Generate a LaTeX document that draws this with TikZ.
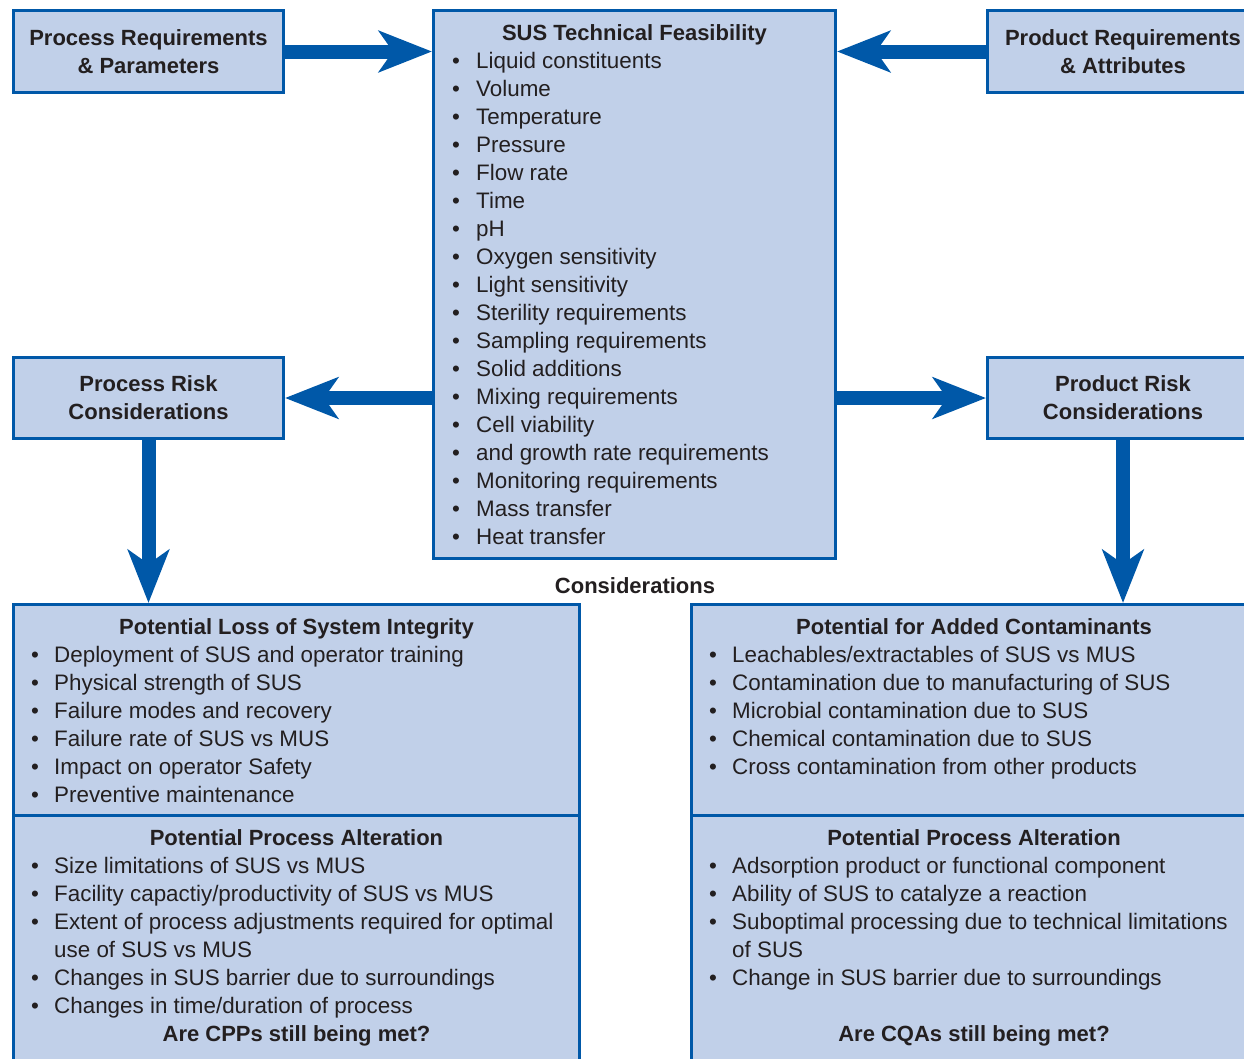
\documentclass[tikz,border=0pt]{standalone}
\usepackage{fontspec}
\setmainfont{Liberation Sans}
\usetikzlibrary{positioning,arrows.meta}
\definecolor{susfill}{RGB}{193,208,233}
\definecolor{susblue}{RGB}{0,88,168}
\definecolor{sustext}{RGB}{35,31,32}
\newcommand{\susfont}{\fontsize{22pt}{28pt}\selectfont}
\newcommand{\itmfont}{\fontsize{22.4pt}{28pt}\selectfont}

\begin{document}
\begin{tikzpicture}[x=1pt,y=-1pt,
box/.style={
  draw=susblue,
  fill=susfill,
  line width=3pt,
  inner sep=0pt,
  text=sustext,
  font={\susfont\bfseries},
  align=center},
itm/.style={anchor=base west, inner sep=0pt, text=sustext, font=\itmfont},
hd/.style={anchor=base, inner sep=0pt, text=sustext, font={\susfont\bfseries}},
bigarrow/.style={draw=susblue, line width=14pt,
  -{Stealth[length=53pt,width=41pt,inset=14pt]}},
]
\useasboundingbox (0,0) rectangle (1244,1058);
\clip (0,0) rectangle (1244,1058);

% boxes
\node[box, minimum width=270pt, minimum height=82pt] (procreq) at (148.5,51.5) {Process Requirements\\\& Parameters};
\node[box, minimum width=402pt, minimum height=548pt] (sus) at (634.5,284.5) {};
\node[box, minimum width=271pt, minimum height=82pt] (prodreq) at (1123,51.5) {Product Requirements\\\& Attributes};
\node[box, minimum width=270pt, minimum height=81pt] (procrisk) at (148.5,398) {Process Risk\\Considerations};
\node[box, minimum width=271pt, minimum height=81pt] (prodrisk) at (1123,398) {Product Risk\\Considerations};
\node[box, minimum width=566pt, minimum height=210.5pt] (loss) at (296.5,709.75) {};
\node[box, minimum width=566pt, minimum height=265pt] (altl) at (296.5,947.5) {};
\node[box, minimum width=568.5pt, minimum height=210.5pt] (contam) at (975.75,709.75) {};
\node[box, minimum width=568.5pt, minimum height=265pt] (altr) at (975.75,947.5) {};

% feasibility list
\node[hd] (sustitle) at (634.5,40) {SUS Technical Feasibility};
\foreach \t [count=\i] in {Liquid constituents, Volume, Temperature, Pressure,
  Flow rate, Time, pH, Oxygen sensitivity, Light sensitivity,
  Sterility requirements, Sampling requirements, Solid additions,
  Mixing requirements, Cell viability, and growth rate requirements,
  Monitoring requirements, Mass transfer, Heat transfer}
  \node[itm] (sus\i) at (452,40+28*\i) {\makebox[24pt][l]{\textbullet}\t};

\node[hd] (consid) at (635,593) {Considerations};

% process side
\node[hd] (losstitle) at (296.5,634) {Potential Loss of System Integrity};
\foreach \t [count=\i] in {Deployment of SUS and operator training,
  Physical strength of SUS, Failure modes and recovery,
  Failure rate of SUS vs MUS, Impact on operator Safety,
  Preventive maintenance}
  \node[itm] (loss\i) at (31,634+28*\i) {\makebox[23pt][l]{\textbullet}\t};

\node[hd] (altltitle) at (296.5,845) {Potential Process Alteration};
\foreach \b/\t [count=\i] in {1/{Size limitations of SUS vs MUS},
  1/{Facility capactiy/productivity of SUS vs MUS},
  1/{Extent of process adjustments required for optimal},
  0/{use of SUS vs MUS},
  1/{Changes in SUS barrier due to surroundings},
  1/{Changes in time/duration of process}}
  \node[itm] (altl\i) at (31,845+28*\i) {\makebox[23pt][l]{\ifnum\b=1 \textbullet\fi}\t};
\node[hd] (cpp) at (296.5,1041) {Are CPPs still being met?};

% product side
\node[hd] (contamtitle) at (974,634) {Potential for Added Contaminants};
\foreach \t [count=\i] in {{Leachables/extractables of SUS vs MUS},
  Contamination due to manufacturing of SUS,
  Microbial contamination due to SUS,
  Chemical contamination due to SUS,
  Cross contamination from other products}
  \node[itm] (contam\i) at (709,634+28*\i) {\makebox[23pt][l]{\textbullet}\t};

\node[hd] (altrtitle) at (974,845) {Potential Process Alteration};
\foreach \b/\t [count=\i] in {1/{Adsorption product or functional component},
  1/{Ability of SUS to catalyze a reaction},
  1/{Suboptimal processing due to technical limitations},
  0/{of SUS},
  1/{Change in SUS barrier due to surroundings}}
  \node[itm] (altr\i) at (709,845+28*\i) {\makebox[23pt][l]{\ifnum\b=1 \textbullet\fi}\t};
\node[hd] (cqa) at (974,1041) {Are CQAs still being met?};

% arrows
\draw[bigarrow] (procreq.east) -- (procreq.east -| sus.west);
\draw[bigarrow] (prodreq.west) -- (prodreq.west -| sus.east);
\draw[bigarrow] (sus.west |- procrisk.east) -- (procrisk.east);
\draw[bigarrow] (sus.east |- prodrisk.west) -- (prodrisk.west);
\draw[bigarrow] (procrisk.south) -- (procrisk.south |- loss.north);
\draw[bigarrow] (prodrisk.south) -- (prodrisk.south |- contam.north);
\end{tikzpicture}
\end{document}
